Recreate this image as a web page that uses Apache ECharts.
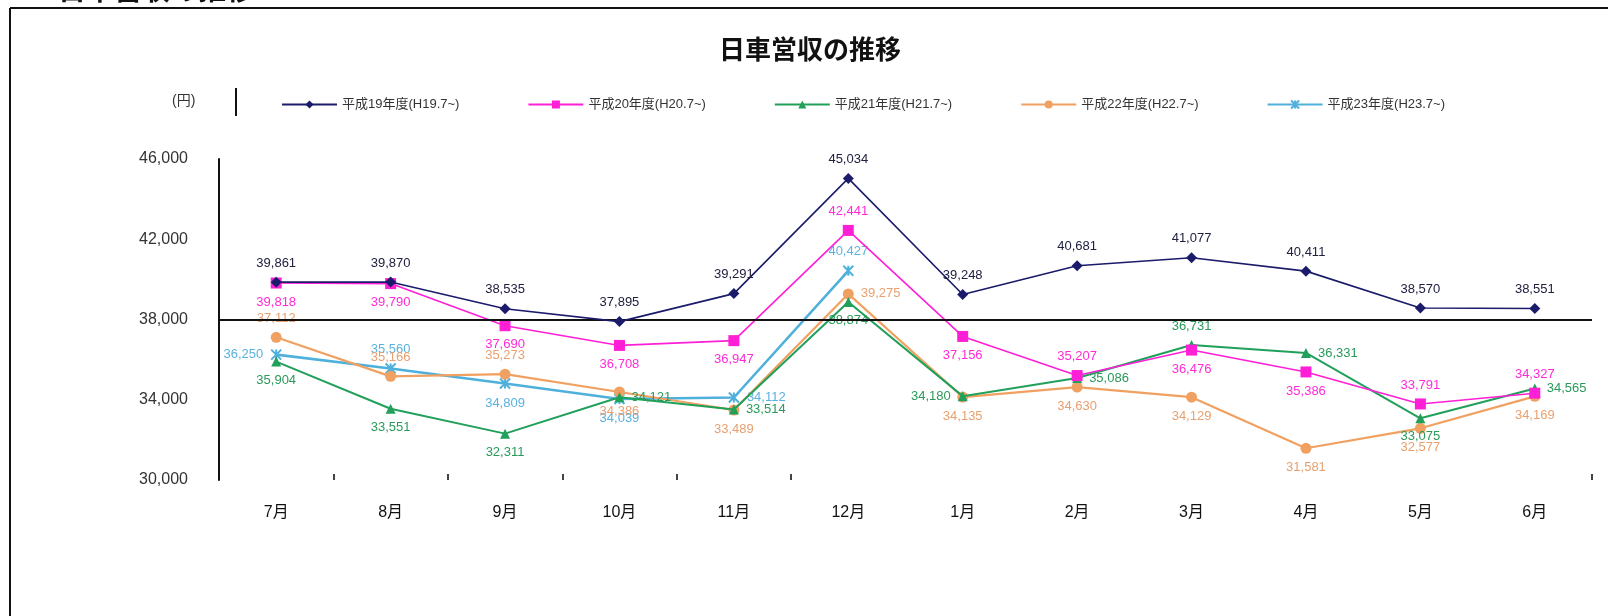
<!DOCTYPE html>
<html>
<head>
<meta charset="utf-8">
<script src="https://cdn.jsdelivr.net/npm/echarts@6/dist/echarts.min.js"></script>
<style>
  html, body { margin: 0; padding: 0; background: #fff; }
  #chart { width: 1608px; height: 616px; }
</style>
</head>
<body>
<div id="chart"></div>
<script>
// Monthly daily revenue per vehicle (円), fiscal years starting in July
const months = ['7月', '8月', '9月', '10月', '11月', '12月', '1月', '2月', '3月', '4月', '5月', '6月'];
const yTicks = [30000, 34000, 38000, 42000, 46000];

const seriesNames = [
  '平成19年度(H19.7~)',
  '平成20年度(H20.7~)',
  '平成21年度(H21.7~)',
  '平成22年度(H22.7~)',
  '平成23年度(H23.7~)'
];

const fy19 = [39861, 39870, 38535, 37895, 39291, 45034, 39248, 40681, 41077, 40411, 38570, 38551];
const fy20 = [39818, 39790, 37690, 36708, 36947, 42441, 37156, 35207, 36476, 35386, 33791, 34327];
const fy21 = [35904, 33551, 32311, 34121, 33514, 38874, 34180, 35086, 36731, 36331, 33075, 34565];
const fy22 = [37112, 35166, 35273, 34386, 33489, 39275, 34135, 34630, 34129, 31581, 32577, 34169];
const fy23 = [36250, 35560, 34809, 34039, 34112, 40427, null, null, null, null, null, null];

// Where each value label sits relative to its marker
const pos19 = ['top', 'top', 'top', 'top', 'top', 'top', 'top', 'top', 'top', 'top', 'top', 'top'];
const pos20 = ['bottom', 'bottom', 'bottom', 'bottom', 'bottom', 'top', 'bottom', 'top', 'bottom', 'bottom', 'top', 'top'];
const pos21 = ['bottom', 'bottom', 'bottom', 'right', 'right', 'bottom', 'left', 'right', 'top', 'right', 'bottom', 'right'];
const pos22 = ['top', 'top', 'top', 'bottom', 'bottom', 'right', 'bottom', 'bottom', 'bottom', 'bottom', 'bottom', 'bottom'];
const pos23 = ['left', 'top', 'bottom', 'bottom', 'right', 'top'];

const colors = ['#1b1b6b', '#ff1fd6', '#20a05a', '#f0a060', '#4fb0dc'];
const labelColors = ['#202040', '#ff2ad8', '#2a9a5a', '#e8a070', '#5ab2e0'];
const FONT = '"Liberation Sans", "Noto Sans CJK JP", sans-serif';

function fmt(v) {
  return String(v).replace(/\B(?=(\d{3})+(?!\d))/g, ',');
}

function buildData(values, positions) {
  return values.map((v, i) => {
    if (v == null) return null;
    const p = positions[i] || 'top';
    return { value: v, label: { position: p } };
  });
}

function makeSeries(idx, values, positions, symbol, size, width, extra) {
  const s = {
    name: seriesNames[idx],
    type: 'line',
    data: buildData(values, positions),
    symbol: symbol,
    symbolSize: size,
    showAllSymbol: true,
    connectNulls: false,
    lineStyle: { color: colors[idx], width: width },
    itemStyle: { color: colors[idx] },
    label: {
      show: true,
      distance: 7,
      color: labelColors[idx],
      fontSize: 13,
      fontFamily: FONT,
      formatter: p => fmt(p.value)
    },
    z: 5 - idx,
    animation: false
  };
  return Object.assign(s, extra || {});
}

const chart = echarts.init(document.getElementById('chart'), null, { renderer: 'canvas' });

const option = {
  backgroundColor: '#ffffff',
  animation: false,
  textStyle: { fontFamily: FONT },
  title: {
    text: '日車営収の推移',
    left: 805,
    textAlign: 'center',
    top: 34,
    textStyle: { fontSize: 26, fontWeight: 'bold', color: '#111', fontFamily: FONT }
  },
  legend: {
    data: seriesNames,
    left: 276,
    top: 93,
    itemWidth: 55,
    itemHeight: 10,
    itemGap: 68,
    textStyle: { fontSize: 13, color: '#333', fontFamily: FONT }
  },
  grid: { left: 219, right: 16, top: 159, bottom: 136, containLabel: false },
  xAxis: {
    type: 'category',
    data: months,
    boundaryGap: true,
    axisLine: { show: false },
    axisTick: {
      show: true,
      inside: true,
      length: 6,
      interval: i => i >= 1 && i <= 5,
      lineStyle: { color: '#444', width: 2 }
    },
    axisLabel: { margin: 25, fontSize: 16, color: '#111', fontFamily: FONT }
  },
  yAxis: {
    type: 'value',
    min: yTicks[0],
    max: yTicks[yTicks.length - 1],
    interval: yTicks[1] - yTicks[0],
    axisLine: { show: true, lineStyle: { color: '#111', width: 2 } },
    axisTick: { show: false },
    splitLine: { show: false },
    axisLabel: { margin: 31, fontSize: 16, color: '#333', fontFamily: FONT, formatter: v => fmt(v) }
  },
  graphic: [
    // heading above the frame
    { type: 'text', left: 2, top: -22, style: { text: '１．日車営収の推移', fontSize: 28, fontWeight: 'bold', fill: '#111', fontFamily: FONT } },
    // frame
    { type: 'line', shape: { x1: 10, y1: 8, x2: 1608, y2: 8 }, style: { stroke: '#111', lineWidth: 2 } },
    { type: 'line', shape: { x1: 10, y1: 8, x2: 10, y2: 616 }, style: { stroke: '#111', lineWidth: 2 } },
    // unit
    { type: 'text', left: 172, top: 94, style: { text: '(円)', fontSize: 14, fill: '#333', fontFamily: FONT } },
    { type: 'line', shape: { x1: 236, y1: 88, x2: 236, y2: 116 }, style: { stroke: '#111', lineWidth: 2 } }
  ],
  series: [
    makeSeries(0, fy19, pos19, 'diamond', 11, 1.6, {
      markLine: {
        silent: true,
        symbol: 'none',
        label: { show: false },
        lineStyle: { color: '#111', width: 2, type: 'solid' },
        data: [{ yAxis: yTicks[2] }]
      }
    }),
    makeSeries(1, fy20, pos20, 'rect', 11, 1.6),
    makeSeries(2, fy21, pos21, 'triangle', 10, 2),
    makeSeries(3, fy22, pos22, 'circle', 11, 2.2),
    makeSeries(4, fy23, pos23, 'path://M0,0L10,10M10,0L0,10M5,0L5,10', 10, 2.6, {
      itemStyle: { color: colors[4], borderColor: colors[4], borderWidth: 2 }
    })
  ]
};

chart.setOption(option);
</script>
</body>
</html>
